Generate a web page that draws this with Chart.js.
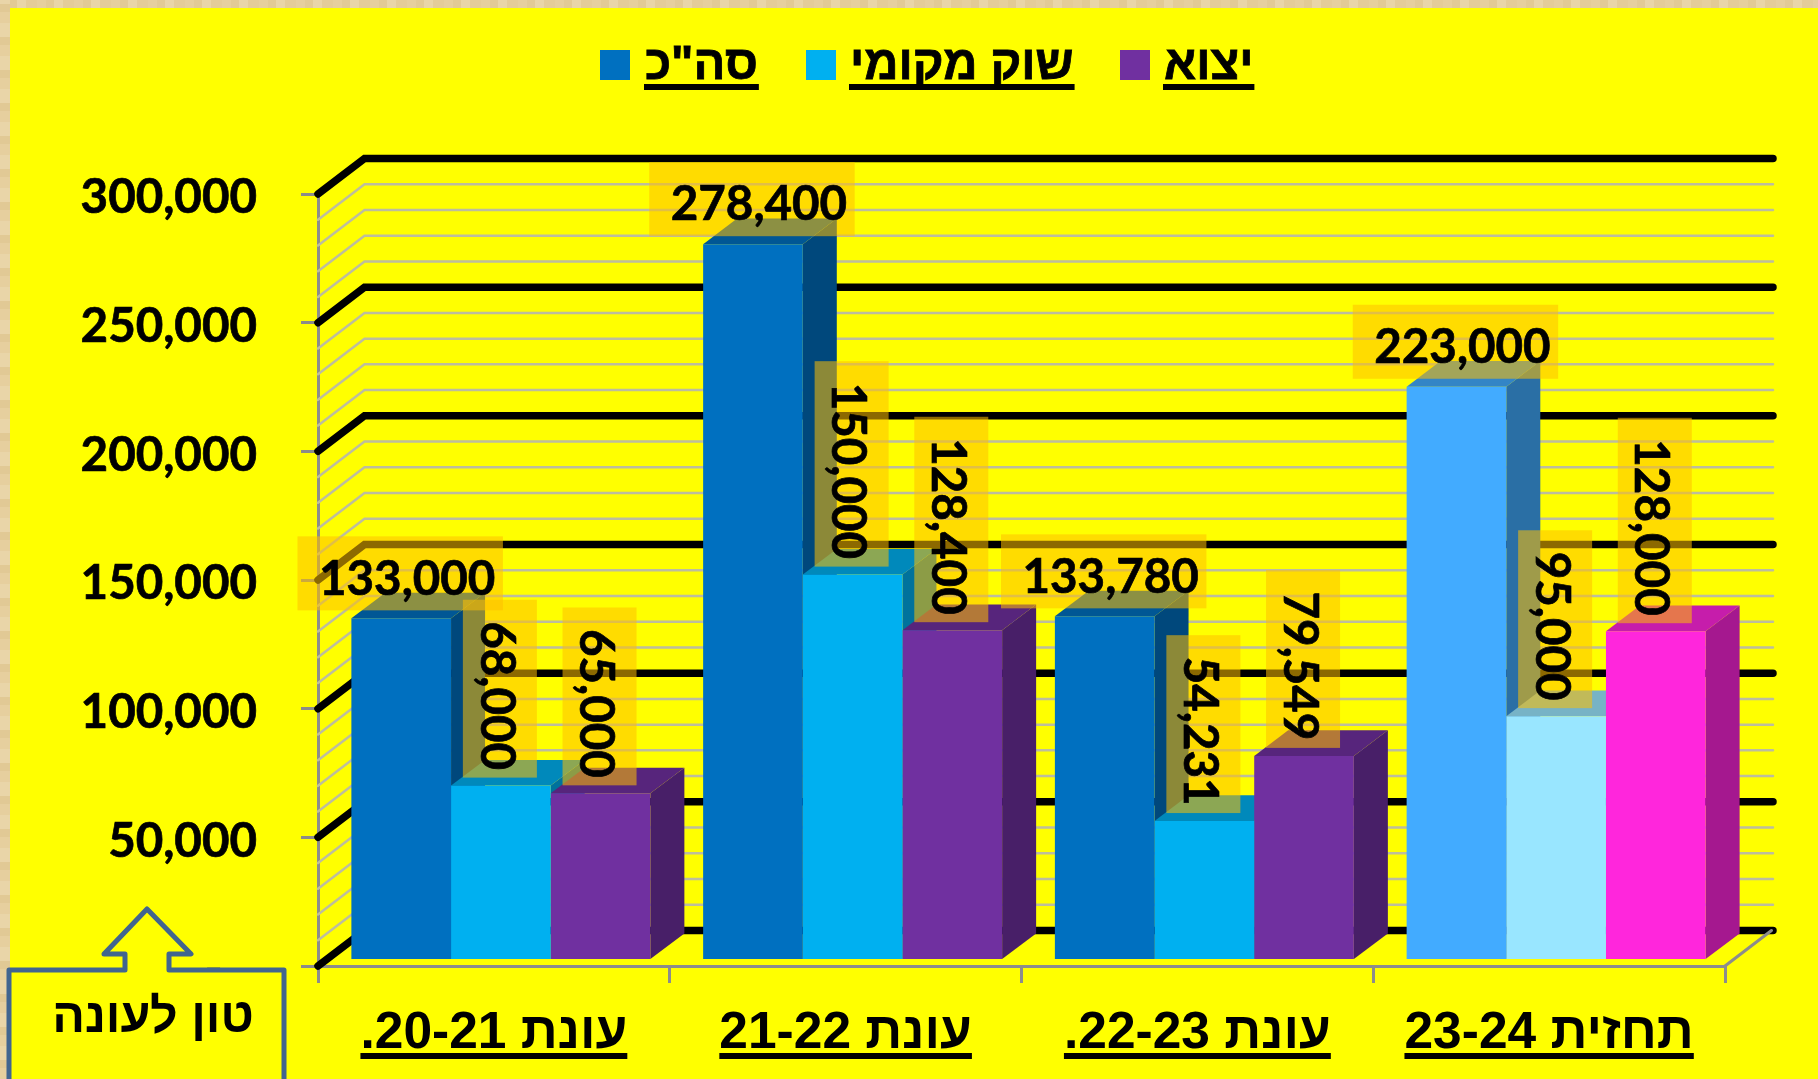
<!DOCTYPE html>
<html lang="he"><head><meta charset="utf-8">
<style>
html,body{margin:0;padding:0;width:1818px;height:1079px;overflow:hidden;
background:repeating-linear-gradient(90deg,#e6cf9e 0 9px,#e2ca96 9px 17px,#e9d5a8 17px 26px,#e4cc99 26px 37px);}
#left{position:absolute;left:0;top:0;width:10px;height:1079px;background:repeating-linear-gradient(0deg,#e6cf9e 0 11px,#e1c995 11px 19px,#e9d5a8 19px 33px);}
#bg{position:absolute;left:10px;top:8px;width:1808px;height:1071px;background:#ffff00;}
canvas{position:absolute;left:0;top:0;}
</style></head><body>
<div id="left"></div><div id="bg"></div>
<canvas id="c" width="1818" height="1079" dir="rtl"></canvas>
<script src="https://cdn.jsdelivr.net/npm/chart.js@4"></script>
<script>
const categories = ["עונת 20-21.", "עונת 21-22", "עונת 22-23.", "תחזית 23-24"];
const seriesNames = ['סה"כ', "שוק מקומי", "יצוא"];
const totalValues = [133000, 278400, 133780, 223000];
const localValues = [68000, 150000, 54231, 95000];
const exportValues = [65000, 128400, 79549, 128000];
const totalColors = ["#0070C0", "#0070C0", "#0070C0", "#42ABFF"];
const localColors = ["#00B0F0", "#00B0F0", "#00B0F0", "#99E6FF"];
const exportColors = ["#7030A0", "#7030A0", "#7030A0", "#FF26DC"];
const calloutText = "טון לעונה";

const WALL = {dx: 46.5, dy: -35.5};
const BAR_SHIFT = {dx: 7, dy: -5.4};
const BAR_DEPTH = {dx: 34, dy: -25.7};
const MINOR = "#BDBD9E", AXIS = "#8C8C8C";
const NUM_FONT = "bold 47.5px Lato";
const CAT_FONT = "bold 51.5px 'Liberation Sans'";

function shade(hex, k) {
  const n = parseInt(hex.slice(1), 16);
  return `rgb(${(n >> 16 & 255) * k | 0},${(n >> 8 & 255) * k | 0},${(n & 255) * k | 0})`;
}
function poly(ctx, pts, fill) {
  ctx.beginPath();
  pts.forEach((p, i) => i ? ctx.lineTo(p[0], p[1]) : ctx.moveTo(p[0], p[1]));
  ctx.closePath(); ctx.fillStyle = fill; ctx.fill();
}

const walls = {
  id: "walls",
  beforeDatasetsDraw(chart) {
    const {ctx, chartArea: a, scales: {y}} = chart;
    ctx.save(); ctx.lineCap = "round";
    for (let v = 0; v <= 300000; v += 10000) {
      const py = y.getPixelForValue(v), major = v % 50000 === 0;
      ctx.strokeStyle = major ? "#000" : MINOR;
      ctx.lineWidth = major ? 7.5 : 2.5;
      ctx.beginPath();
      ctx.moveTo(a.left, py);
      ctx.lineTo(a.left + WALL.dx, py + WALL.dy);
      ctx.lineTo(a.right + WALL.dx + 1.5, py + WALL.dy);
      ctx.stroke();
    }
    ctx.strokeStyle = AXIS; ctx.lineWidth = 3;
    ctx.beginPath();
    ctx.moveTo(a.right, a.bottom); ctx.lineTo(a.right + WALL.dx, a.bottom + WALL.dy);
    ctx.stroke();
    // side and top faces of the bars, left to right, behind all front faces
    ctx.translate(BAR_SHIFT.dx, BAR_SHIFT.dy);
    const {dx, dy} = BAR_DEPTH;
    categories.forEach((_, i) => {
      chart.data.datasets.forEach((ds, di) => {
        const bar = chart.getDatasetMeta(di).data[i];
        const c = ds.backgroundColor[i], r = bar.x + bar.width / 2, l = bar.x - bar.width / 2;
        poly(ctx, [[r, bar.y], [r + dx, bar.y + dy], [r + dx, bar.base + dy], [r, bar.base]], shade(c, 0.65));
        poly(ctx, [[l, bar.y], [l + dx, bar.y + dy], [r + dx, bar.y + dy], [r, bar.y]], shade(c, 0.78));
      });
    });
    ctx.restore();
  },
  beforeDatasetDraw(chart) {
    chart.ctx.save();
    chart.ctx.translate(BAR_SHIFT.dx, BAR_SHIFT.dy);
  },
  afterDatasetDraw(chart) { chart.ctx.restore(); },
  afterDatasetsDraw(chart) {
    const {ctx} = chart;
    const H = 74, PAD = 14.5, GAP = 8;
    ctx.save();
    ctx.font = NUM_FONT; ctx.textAlign = "center"; ctx.textBaseline = "middle";
    ctx.lineWidth = 0.7; ctx.strokeStyle = "#000";
    chart.data.datasets.forEach((ds, di) => {
      chart.getDatasetMeta(di).data.forEach((bar, i) => {
        const txt = ds.data[i].toLocaleString("en-US");
        const w = ctx.measureText(txt).width + PAD * 2;
        const cx = bar.x + BAR_SHIFT.dx - 1, top = bar.y + BAR_SHIFT.dy;
        const rotated = di > 0;
        const cy = top - GAP - (rotated ? w : H) / 2;
        const ty = rotated ? 4 : 6;
        ctx.save();
        ctx.translate(cx, cy);
        if (rotated) ctx.rotate(Math.PI / 2);
        ctx.fillStyle = "rgba(255,192,0,0.55)";
        ctx.fillRect(-w / 2, -H / 2, w, H);
        ctx.fillStyle = "#000";
        ctx.fillText(txt, 7, ty);
        ctx.strokeText(txt, 7, ty);
        ctx.restore();
      });
    });
    ctx.restore();
  },
  afterDraw(chart) {
    const {ctx, scales: {x}} = chart;
    ctx.save();
    // underlined category labels
    ctx.font = CAT_FONT; ctx.fillStyle = "#000";
    categories.forEach((c, i) => {
      const w = ctx.measureText(c).width, cx = x.getPixelForTick(i);
      ctx.fillRect(cx - w / 2, 1053, w, 6);
    });
    // legend
    ctx.textAlign = "left"; ctx.textBaseline = "alphabetic";
    ctx.font = "bold 47.2px 'Liberation Sans'";
    ctx.lineWidth = 0.8; ctx.strokeStyle = "#000";
    const boxes = [600, 806, 1120], texts = [645, 850, 1164];
    chart.data.datasets.forEach((ds, i) => {
      ctx.fillStyle = ds.backgroundColor[0];
      ctx.fillRect(boxes[i], 50, 30, 30);
      ctx.fillStyle = "#000";
      const w = ctx.measureText(ds.label).width;
      ctx.fillText(ds.label, texts[i], 79);
      ctx.strokeText(ds.label, texts[i], 79);
      ctx.fillRect(texts[i] - 1, 84, w + 2, 6);
    });
    // callout
    ctx.strokeStyle = "#41658F"; ctx.lineWidth = 5; ctx.lineJoin = "round";
    ctx.fillStyle = "#ffff00";
    ctx.beginPath();
    [[9,1100],[9,970],[125,970],[125,954],[104,954],[147,909],[191,954],[169,954],[169,970],[284,970],[284,1100]]
      .forEach((p, i) => i ? ctx.lineTo(p[0], p[1]) : ctx.moveTo(p[0], p[1]));
    ctx.fill(); ctx.stroke();
    ctx.fillStyle = "#000"; ctx.textAlign = "center"; ctx.textBaseline = "alphabetic";
    ctx.font = "bold 48.5px 'Liberation Sans'";
    ctx.fillText(calloutText, 153, 1032);
    ctx.restore();
  }
};

new Chart(document.getElementById("c"), {
  type: "bar",
  plugins: [walls],
  data: {
    labels: categories,
    datasets: [
      {label: seriesNames[0], data: totalValues, backgroundColor: totalColors},
      {label: seriesNames[1], data: localValues, backgroundColor: localColors},
      {label: seriesNames[2], data: exportValues, backgroundColor: exportColors}
    ]
  },
  options: {
    responsive: false, animation: false,
    layout: {padding: {top: 194, right: 93, left: 0, bottom: 0}},
    datasets: {bar: {categoryPercentage: 0.85, barPercentage: 1, borderWidth: 0}},
    plugins: {legend: {display: false}, tooltip: {enabled: false}},
    scales: {
      x: {
        offset: true,
        afterFit(s) { s.height = 113; },
        grid: {drawOnChartArea: false, drawTicks: true, tickLength: 17, color: AXIS, lineWidth: 3, offset: true},
        border: {color: AXIS, width: 3},
        ticks: {color: "#000", font: {family: "Liberation Sans", weight: "bold", size: 51.5}, padding: 20, maxRotation: 0, autoSkip: false}
      },
      y: {
        min: 0, max: 300000,
        afterFit(s) { s.width = 318; },
        grid: {drawOnChartArea: false, drawTicks: true, tickLength: 17, color: AXIS, lineWidth: 3},
        border: {color: AXIS, width: 3},
        ticks: {
          stepSize: 50000, color: "#000", padding: 44, labelOffset: 4,
          textStrokeColor: "#000", textStrokeWidth: 0.7,
          font: {family: "Lato", weight: "bold", size: 47.5},
          callback: v => v === 0 ? "\u00A0\u00A0\u00A0-" : v.toLocaleString("en-US")
        }
      }
    }
  }
});
</script>
</body></html>
